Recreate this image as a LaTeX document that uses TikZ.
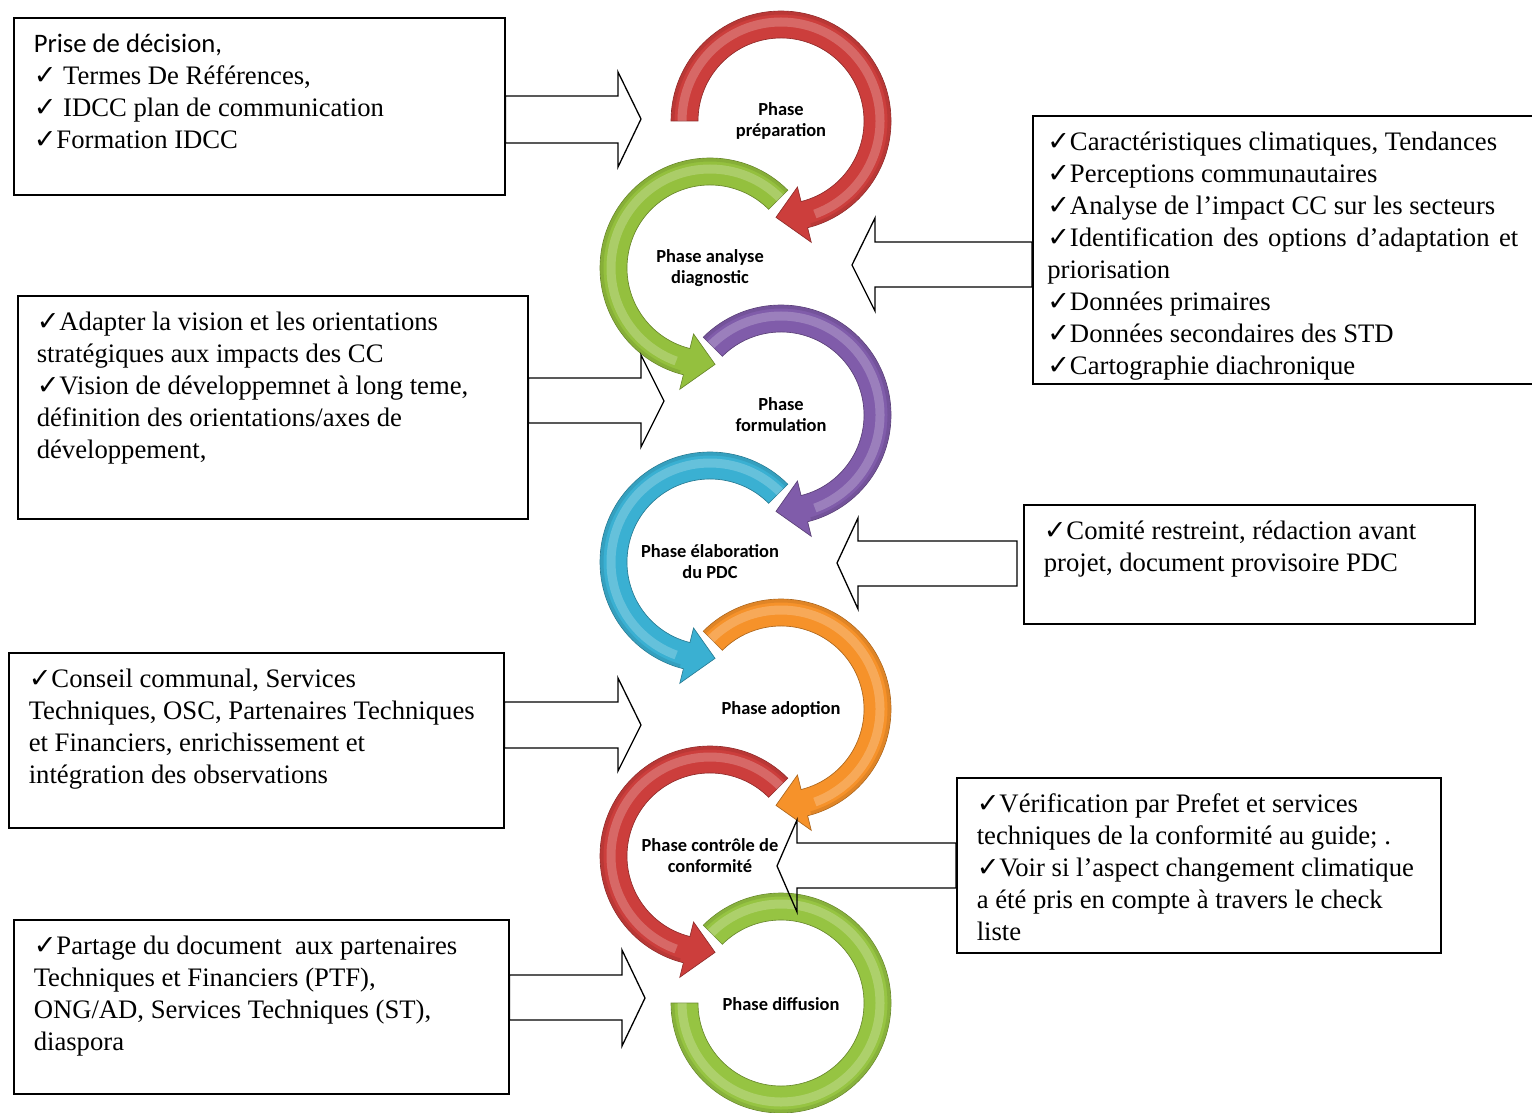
\documentclass[tikz,border=0pt]{standalone}
\usepackage{fontspec}
\setmainfont{Liberation Serif}
\newfontfamily\calibri{Carlito}
\newfontfamily\symbfont{DejaVu Sans}
\usetikzlibrary{positioning}

\newlength\pxu
\setlength\pxu{0.0162cm}
\newcommand{\chk}{{\symbfont\fontsize{12.5}{12}\selectfont ✓}}
\newcommand{\boxtxt}[3]{\parbox[b][#2\pxu][t]{#1\pxu}{\raggedright #3}}

\definecolor{mred}{RGB}{204,62,60}
\definecolor{mgreen}{RGB}{148,192,62}
\definecolor{mpurple}{RGB}{128,92,170}
\definecolor{mcyan}{RGB}{58,176,210}
\definecolor{morange}{RGB}{246,146,42}
\definecolor{mlime}{RGB}{150,196,66}

% clockwise ring with a head at the bottom
\newcommand{\ringcw}[3]{%
  \begin{scope}[shift={(#1)}]
    \fill[#3, draw=#3!70!black, line width=0.3pt] (#2:110) arc[start angle=#2, end angle=-76, radius=110]
      -- (-76:125) -- (-93:96.5) -- (-76:68) -- (-76:83)
      arc[start angle=-76, end angle=#2, radius=83] -- cycle;
    \draw[white, opacity=0.22, line width=9\pxu] (#2:99) arc[start angle=#2, end angle=-70, radius=99];
    \draw[#3!75!black, opacity=0.35, line width=3\pxu] (#2:108) arc[start angle=#2, end angle=-74, radius=108];
  \end{scope}}
% counter-clockwise ring with a head at the bottom
\newcommand{\ringccw}[3]{%
  \begin{scope}[shift={(#1)}]
    \fill[#3, draw=#3!70!black, line width=0.3pt] (#2:110) arc[start angle=#2, end angle=256, radius=110]
      -- (256:125) -- (273:96.5) -- (256:68) -- (256:83)
      arc[start angle=256, end angle=#2, radius=83] -- cycle;
    \draw[white, opacity=0.22, line width=9\pxu] (#2:99) arc[start angle=#2, end angle=250, radius=99];
    \draw[#3!75!black, opacity=0.35, line width=3\pxu] (#2:108) arc[start angle=#2, end angle=254, radius=108];
  \end{scope}}

\begin{document}
\begin{tikzpicture}[x=1\pxu, y=1\pxu,
    infobox/.style={draw, line width=0.7pt, anchor=north west, inner xsep=20\pxu, inner ysep=16\pxu,
      font=\fontsize{12.3}{14.75}\selectfont},
    phaselbl/.style={font=\calibri\bfseries\fontsize{8.5}{9.7}\selectfont, align=center, inner sep=1pt},
    blockarr/.style={draw, line width=0.6pt, line join=miter}]
    \useasboundingbox (0,0) rectangle (1532,-1112);

    % rings
    \ringcw{781,-121}{180}{mred}
    \ringccw{710,-268}{45}{mgreen}
    \ringcw{781,-415}{135}{mpurple}
    \ringccw{710,-562}{45}{mcyan}
    \ringcw{781,-709}{135}{morange}
    \ringccw{710,-856}{45}{mred}
    \begin{scope}[shift={(781,-1003)}]
      \fill[mlime, draw=mlime!70!black, line width=0.3pt] (135:110) arc[start angle=135, end angle=-180, radius=110]
        -- (-180:83) arc[start angle=-180, end angle=135, radius=83] -- cycle;
      \draw[white, opacity=0.22, line width=9\pxu] (135:99) arc[start angle=135, end angle=-180, radius=99];
      \draw[mlime!75!black, opacity=0.35, line width=3\pxu] (135:108) arc[start angle=135, end angle=-180, radius=108];
    \end{scope}

    \node[phaselbl] (p1) at (781,-121) {Phase\\préparation};
    \node[phaselbl] (p2) at (710,-268) {Phase analyse\\diagnostic};
    \node[phaselbl] (p3) at (781,-415) {Phase\\formulation};
    \node[phaselbl] (p4) at (710,-562) {Phase élaboration\\du PDC};
    \node[phaselbl] (p5) at (781,-709) {Phase adoption};
    \node[phaselbl] (p6) at (710,-856) {Phase contrôle de\\conformité};
    \node[phaselbl] (p7) at (781,-1004) {Phase diffusion};

    % boxes
    \node[infobox] (b1) at (13,-17) {\boxtxt{451}{145}{{\calibri Prise de décision,}\\
      \chk\ Termes De Références,\\ \chk\ IDCC plan de communication\\ \chk Formation IDCC}};
    \node[infobox, inner xsep=14.5\pxu] (b2) at (1032,-115) {\boxtxt{471}{236}{\chk Caractéristiques climatiques, Tendances\\
      \chk Perceptions communautaires\\ \chk Analyse de l’impact CC sur les secteurs\\
      \makebox[\linewidth][s]{\chk Identification des options d’adaptation et}\\ priorisation\\
      \chk Données primaires\\ \chk Données secondaires des STD\\ \chk Cartographie diachronique}};
    \node[infobox, inner xsep=19\pxu] (b3) at (17,-295) {\boxtxt{472}{191}{\chk Adapter la vision et les orientations\\
      stratégiques aux impacts des CC\\ \chk Vision de développemnet à long teme,\\
      définition des orientations/axes de\\ développement,}};
    \node[infobox] (b4) at (1023,-504) {\boxtxt{411}{87}{\chk Comité restreint, rédaction avant\\
      projet, document provisoire PDC}};
    \node[infobox] (b5) at (8,-652) {\boxtxt{455}{143}{\chk Conseil communal, Services\\
      Techniques, OSC, Partenaires Techniques\\ et Financiers, enrichissement et\\ intégration des observations}};
    \node[infobox] (b6) at (956,-777) {\boxtxt{444}{143}{\chk Vérification par Prefet et services\\
      techniques de la conformité au guide; .\\ \chk Voir si l’aspect changement climatique\\
      a été pris en compte à travers le check\\ liste}};
    \node[infobox] (b7) at (13,-919) {\boxtxt{455}{142}{\chk Partage du document\ \ aux partenaires\\
      Techniques et Financiers (PTF),\\ ONG/AD, Services Techniques (ST),\\ diaspora}};

    % block arrows
    \draw[blockarr] (b1.east |- 0,-96) -- (618,-96) -- (618,-72) -- (641,-119) -- (618,-167) -- (618,-143) -- (b1.east |- 0,-143) -- cycle;
    \draw[blockarr] (b2.west |- 0,-242) -- (875,-242) -- (875,-218) -- (852,-265) -- (875,-311) -- (875,-287) -- (b2.west |- 0,-287) -- cycle;
    \draw[blockarr] (b3.east |- 0,-378) -- (641,-378) -- (641,-355) -- (664,-401) -- (641,-447) -- (641,-423) -- (b3.east |- 0,-423) -- cycle;
    \draw[blockarr] (1017,-541) -- (858,-541) -- (858,-518) -- (837,-563) -- (858,-609) -- (858,-586) -- (1017,-586) -- cycle;
    \draw[blockarr] (b5.east |- 0,-702) -- (618,-702) -- (618,-678) -- (641,-725) -- (618,-771) -- (618,-748) -- (b5.east |- 0,-748) -- cycle;
    \draw[blockarr] (b6.west |- 0,-843) -- (797,-843) -- (797,-820) -- (777,-866) -- (797,-912) -- (797,-888) -- (b6.west |- 0,-888) -- cycle;
    \draw[blockarr] (b7.east |- 0,-975) -- (622,-975) -- (622,-950) -- (645,-998) -- (622,-1046) -- (622,-1020) -- (b7.east |- 0,-1020) -- cycle;
  \end{tikzpicture}
\end{document}
